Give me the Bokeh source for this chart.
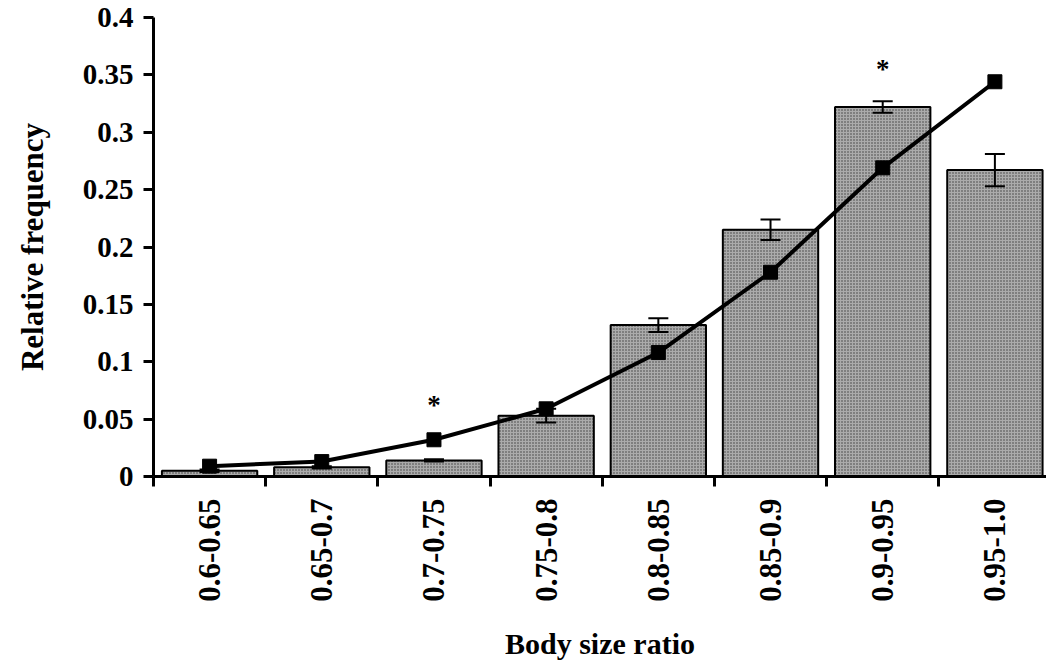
import math
from bokeh.plotting import figure
from bokeh.models import ColumnDataSource, FixedTicker, Range1d, Whisker, TeeHead
from bokeh.core.properties import value
from bokeh.embed import file_html
from bokeh.resources import INLINE

categories = ["0.6-0.65", "0.65-0.7", "0.7-0.75", "0.75-0.8", "0.8-0.85", "0.85-0.9", "0.9-0.95", "0.95-1.0"]
observed = [0.005, 0.008, 0.014, 0.053, 0.132, 0.215, 0.322, 0.267]
observed_err = [0.001, 0.001, 0.001, 0.006, 0.006, 0.009, 0.005, 0.014]
expected = [0.009, 0.013, 0.032, 0.059, 0.108, 0.178, 0.269, 0.344]
sig_categories = ["0.7-0.75", "0.9-0.95"]
sig_y = [0.062, 0.355]
y_ticks = [0, 0.05, 0.1, 0.15, 0.2, 0.25, 0.3, 0.35, 0.4]
y_tick_labels = ["0", "0.05", "0.1", "0.15", "0.2", "0.25", "0.3", "0.35", "0.4"]

FONT = "Liberation Serif"

xs = [i + 0.5 for i in range(len(categories))]
src = ColumnDataSource(dict(
    x=xs, top=observed,
    upper=[v + e for v, e in zip(observed, observed_err)],
    lower=[v - e for v, e in zip(observed, observed_err)],
    exp=expected,
))

p = figure(width=1046, height=664, output_backend="svg", toolbar_location=None,
           x_range=Range1d(0, 7.96), y_range=Range1d(0, 0.4),
           min_border_left=153, min_border_top=17, min_border_right=0, min_border_bottom=188)
p.outline_line_color = None
p.grid.grid_line_color = None
p.background_fill_color = "white"

p.vbar(x="x", top="top", width=0.85, bottom=0, source=src,
       fill_color="#ababab", line_color="black", line_width=2,
       hatch_pattern="dot", hatch_scale=3, hatch_color="#3a3a3a", hatch_weight=1)

w = Whisker(base="x", upper="upper", lower="lower", source=src, line_color="black", line_width=2,
            upper_head=TeeHead(size=20, line_width=2, line_color="black"),
            lower_head=TeeHead(size=20, line_width=2, line_color="black"))
w.level = "overlay"
p.add_layout(w)

p.line(x="x", y="exp", source=src, line_color="black", line_width=4, level="overlay")
p.scatter(x="x", y="exp", source=src, marker="square", size=14, fill_color="black",
          line_color="black", level="overlay")

sig_x = [categories.index(c) + 0.5 for c in sig_categories]
p.text(x=sig_x, y=sig_y, text=["*"] * len(sig_x), text_align="center", text_baseline="middle",
       text_font=value(FONT), text_font_style="bold", text_font_size="27px", text_color="black")

# y axis
ya = p.yaxis[0]
ya.ticker = FixedTicker(ticks=y_ticks)
ya.major_label_overrides = {t: l for t, l in zip(y_ticks, y_tick_labels)}
ya.axis_label = "Relative frequency"
ya.axis_label_text_font = FONT
ya.axis_label_text_font_style = "bold"
ya.axis_label_text_font_size = "31px"
ya.axis_label_text_color = "black"
ya.axis_label_standoff = 30
ya.major_label_text_font = FONT
ya.major_label_text_font_style = "bold"
ya.major_label_text_font_size = "29px"
ya.major_label_text_color = "black"
ya.major_label_standoff = 10
ya.axis_line_width = 3
ya.axis_line_color = "black"
ya.major_tick_line_width = 3
ya.major_tick_out = 10
ya.major_tick_in = 0
ya.minor_tick_line_color = None

# x axis
xa = p.xaxis[0]
xa.ticker = FixedTicker(ticks=xs, minor_ticks=list(range(len(categories) + 1)))
xa.major_label_overrides = {x: c for x, c in zip(xs, categories)}
xa.major_label_orientation = math.pi / 2
xa.axis_label = "Body size ratio"
xa.axis_label_text_font = FONT
xa.axis_label_text_font_style = "bold"
xa.axis_label_text_font_size = "30px"
xa.axis_label_text_color = "black"
xa.axis_label_standoff = 22
xa.major_label_text_font = FONT
xa.major_label_text_font_style = "bold"
xa.major_label_text_font_size = "31px"
xa.major_label_text_color = "black"
xa.major_label_standoff = 12
xa.axis_line_width = 3
xa.axis_line_color = "black"
xa.major_tick_line_color = None
xa.major_tick_out = 10
xa.major_tick_in = 0
xa.minor_tick_line_color = "black"
xa.minor_tick_line_width = 3
xa.minor_tick_out = 10
xa.minor_tick_in = 0

open("out.html", "w").write(file_html(p, INLINE))
